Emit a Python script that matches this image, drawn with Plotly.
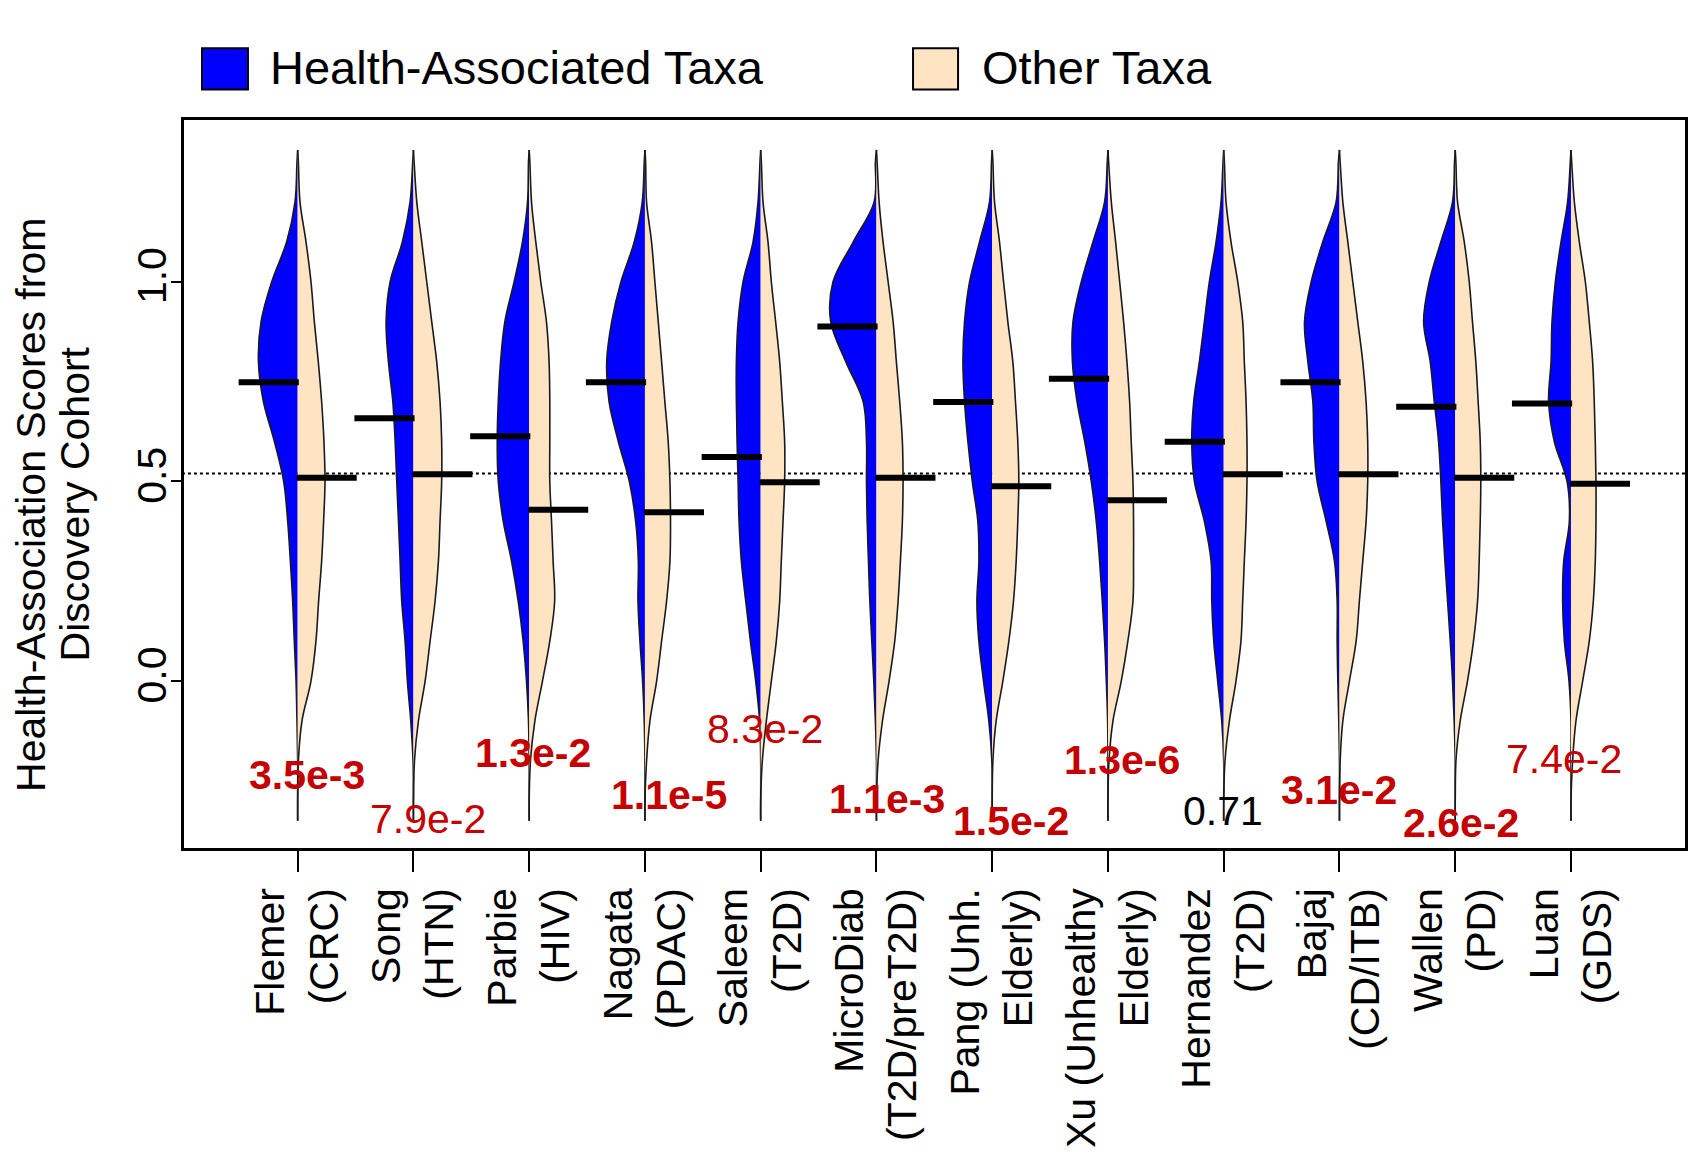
import plotly.graph_objects as go

# cohorts (x tick labels)
COHORTS = ["Flemer<br>(CRC)", "Song<br>(HTN)", "Parbie<br>(HIV)", "Nagata<br>(PDAC)",
           "Saleem<br>(T2D)", "MicroDiab<br>(T2D/preT2D)", "Pang (Unh.<br>Elderly)",
           "Xu (Unhealthy<br>Elderly)", "Hernandez<br>(T2D)", "Bajaj<br>(CD/ITB)",
           "Wallen<br>(PD)", "Luan<br>(GDS)"]

# score levels at which the violin half-widths were read
Y_GRID = [1.33, 1.3, 1.2, 1.1, 1.0, 0.9, 0.8, 0.7, 0.6, 0.5, 0.4, 0.3, 0.2,
          0.1, 0.0, -0.1, -0.2, -0.3, -0.35]

# half-widths (density) of the health-associated taxa, one row per cohort
HEALTH_WIDTH = [
    [0, .006, .023, .095, .224, .316, .339, .296, .201, .121, .086, .063, .043, .029, .014, .006, 0, 0, 0],
    [0, .006, .029, .095, .201, .236, .216, .178, .158, .144, .129, .115, .101, .072, .052, .023, .003, 0, 0],
    [0, .006, .014, .058, .130, .210, .247, .267, .276, .267, .224, .152, .095, .052, .023, .006, 0, 0, 0],
    [0, .006, .023, .092, .207, .287, .330, .310, .230, .135, .080, .057, .060, .043, .020, .006, 0, 0, 0],
    [0, .006, .023, .066, .152, .195, .210, .210, .204, .195, .187, .167, .129, .089, .043, .009, 0, 0, 0],
    [0, .009, .020, .200, .375, .395, .265, .115, .086, .086, .080, .069, .057, .040, .023, .009, 0, 0, 0],
    [0, .006, .023, .109, .195, .239, .253, .239, .210, .172, .124, .115, .132, .115, .075, .029, .003, 0, 0],
    [0, .006, .029, .129, .230, .302, .307, .267, .201, .144, .101, .072, .049, .029, .014, .003, 0, 0, 0],
    [0, .006, .023, .066, .124, .167, .210, .259, .276, .253, .167, .109, .103, .086, .052, .017, 0, 0, 0],
    [0, .009, .029, .144, .244, .302, .273, .230, .221, .193, .115, .043, .020, .020, .014, .006, 0, 0, 0],
    [0, .006, .023, .124, .224, .273, .216, .181, .144, .124, .109, .089, .066, .043, .023, .009, 0, 0, 0],
    [0, .006, .029, .086, .135, .164, .172, .193, .144, .034, .014, .063, .072, .057, .017, 0, 0, 0, 0],
]

# half-widths (density) of the other taxa
OTHER_WIDTH = [
    [0, .006, .020, .072, .115, .144, .178, .207, .227, .236, .224, .207, .181, .158, .115, .037, .006, 0, 0],
    [0, .006, .029, .072, .115, .158, .201, .230, .244, .244, .230, .216, .187, .144, .101, .043, .009, 0, 0],
    [0, .006, .020, .057, .100, .149, .172, .178, .178, .178, .193, .207, .220, .178, .115, .049, .011, 0, 0],
    [0, .006, .014, .057, .086, .115, .144, .172, .201, .216, .221, .216, .187, .144, .101, .043, .014, 0, 0],
    [0, .006, .020, .063, .092, .129, .164, .187, .207, .207, .193, .178, .164, .135, .092, .049, .014, 0, 0],
    [0, .006, .023, .057, .101, .144, .172, .201, .224, .230, .224, .207, .187, .158, .109, .052, .014, 0, 0],
    [0, .006, .020, .063, .098, .135, .178, .201, .221, .230, .221, .207, .184, .144, .092, .034, .006, 0, 0],
    [0, .006, .029, .066, .101, .135, .164, .187, .201, .216, .221, .221, .216, .172, .115, .043, .009, 0, 0],
    [0, .006, .020, .063, .121, .164, .178, .193, .201, .201, .193, .178, .164, .149, .106, .049, .011, 0, 0],
    [0, .006, .029, .072, .115, .158, .201, .230, .244, .244, .230, .201, .172, .144, .086, .029, .006, 0, 0],
    [0, .006, .020, .078, .121, .149, .178, .198, .216, .221, .216, .207, .193, .158, .106, .043, .006, 0, 0],
    [0, .006, .029, .072, .124, .158, .187, .201, .210, .216, .216, .210, .193, .158, .101, .043, .014, 0, 0],
]

HEALTH_MEDIAN = [0.748, 0.658, 0.613, 0.748, 0.561, 0.888, 0.699, 0.757, 0.599, 0.748, 0.687, 0.695]
OTHER_MEDIAN = [0.509, 0.518, 0.429, 0.423, 0.498, 0.509, 0.488, 0.453, 0.518, 0.518, 0.509, 0.494]

P_LABELS = ["3.5e-3", "7.9e-2", "1.3e-2", "1.1e-5", "8.3e-2", "1.1e-3",
            "1.5e-2", "1.3e-6", "0.71", "3.1e-2", "2.6e-2", "7.4e-2"]
P_VALUES = [3.5e-3, 7.9e-2, 1.3e-2, 1.1e-5, 8.3e-2, 1.1e-3,
            1.5e-2, 1.3e-6, 0.71, 3.1e-2, 2.6e-2, 7.4e-2]

REFERENCE_SCORE = 0.52

# where each p-value label sits (offset from cohort, score level)
P_LABEL_DX = [0.08, 0.125, 0.03, 0.21, 0.04, 0.09, 0.16, 0.12, -0.01, 0.0, 0.05, -0.06]
P_LABEL_Y = [-0.235, -0.345, -0.179, -0.285, -0.119, -0.295, -0.35, -0.198, -0.325, -0.272, -0.355, -0.195]

FONT = "Liberation Sans, Arial, sans-serif"
BLUE = "#0000FF"
BISQUE = "#FFE4C4"
RED = "#C40000"
OUTLINE = "#1a1a1a"
MEDIAN_LEN = 0.51

positions = list(range(1, len(COHORTS) + 1))

fig = go.Figure()

# dotted reference line, under the violins
fig.add_trace(go.Scatter(x=[0, len(COHORTS) + 1], y=[REFERENCE_SCORE, REFERENCE_SCORE],
                         mode="lines", line=dict(color="black", width=2, dash="dot"),
                         hoverinfo="skip", showlegend=False))

for i, pos in enumerate(positions):
    for widths, sign, colour in ((HEALTH_WIDTH[i], -1, BLUE), (OTHER_WIDTH[i], 1, BISQUE)):
        fig.add_trace(go.Scatter(
            x=[pos + sign * w for w in widths], y=Y_GRID,
            mode="lines", fill="toself", fillcolor=colour,
            line=dict(color=OUTLINE, width=1.6, shape="spline", smoothing=1.0),
            hoverinfo="skip", showlegend=False))

# median bars
hx, hy, ox, oy = [], [], [], []
for pos, hm, om in zip(positions, HEALTH_MEDIAN, OTHER_MEDIAN):
    hx += [pos - MEDIAN_LEN, pos + 0.01, None]
    hy += [hm, hm, None]
    ox += [pos - 0.01, pos + MEDIAN_LEN, None]
    oy += [om, om, None]
for xs, ys in ((hx, hy), (ox, oy)):
    fig.add_trace(go.Scatter(x=xs, y=ys, mode="lines", line=dict(color="black", width=6),
                             hoverinfo="skip", showlegend=False))

# p-value labels
annotations = []
for pos, lab, p, dx, y in zip(positions, P_LABELS, P_VALUES, P_LABEL_DX, P_LABEL_Y):
    colour = RED if p < 0.1 else "black"
    text = f"<b>{lab}</b>" if p < 0.05 else lab
    annotations.append(dict(x=pos + dx, y=y, xref="x", yref="y", text=text, showarrow=False,
                            xanchor="center", yanchor="middle",
                            font=dict(family=FONT, size=41, color=colour)))

# y axis title, two lines
annotations.append(dict(x=-0.1016, y=0.472, xref="paper", yref="paper",
                        text="Health-Association Scores from", textangle=-90, showarrow=False,
                        xanchor="center", yanchor="middle",
                        font=dict(family=FONT, size=41, color="black")))
annotations.append(dict(x=-0.0726, y=0.472, xref="paper", yref="paper",
                        text="Discovery Cohort", textangle=-90, showarrow=False,
                        xanchor="center", yanchor="middle",
                        font=dict(family=FONT, size=41, color="black")))

# legend drawn by hand to match the large keys
legend_items = [("Health-Associated Taxa", BLUE, 0.012, 0.0426, 0.056),
                ("Other Taxa", BISQUE, 0.4857, 0.5157, 0.5303)]
shapes = []
for name, colour, x0, x1, xt in legend_items:
    shapes.append(dict(type="rect", xref="paper", yref="paper", x0=x0, x1=x1,
                       y0=1.0418, y1=1.0985, fillcolor=colour,
                       line=dict(color="black", width=2)))
    annotations.append(dict(x=xt, y=1.0715, xref="paper", yref="paper", text=name,
                            showarrow=False, xanchor="left", yanchor="middle",
                            font=dict(family=FONT, size=47, color="black")))

# the page body adds an 8px margin, so the figure is 8px smaller on each axis
fig.update_layout(
    width=1693, height=1152,
    margin=dict(l=176, r=16, t=112, b=300),
    paper_bgcolor="white", plot_bgcolor="white",
    showlegend=False,
    annotations=annotations, shapes=shapes,
    xaxis=dict(range=[0.018, 12.985], tickvals=positions, ticktext=COHORTS,
               tickangle=-90, ticks="outside", ticklen=21, tickwidth=2, tickcolor="black",
               showline=True, linewidth=2.5, linecolor="black", mirror=True,
               showgrid=False, zeroline=False,
               tickfont=dict(family=FONT, size=41, color="black")),
    yaxis=dict(range=[-0.418, 1.405], tickvals=[0, 0.5, 1.0], ticktext=["0.0", "0.5", "1.0"],
               tickangle=-90, ticks="outside", ticklen=10, tickwidth=2, tickcolor="black",
               ticklabelstandoff=-11,
               showline=True, linewidth=2.5, linecolor="black", mirror=True,
               showgrid=False, zeroline=False,
               tickfont=dict(family=FONT, size=41, color="black")),
)

fig.write_html("out.html")
